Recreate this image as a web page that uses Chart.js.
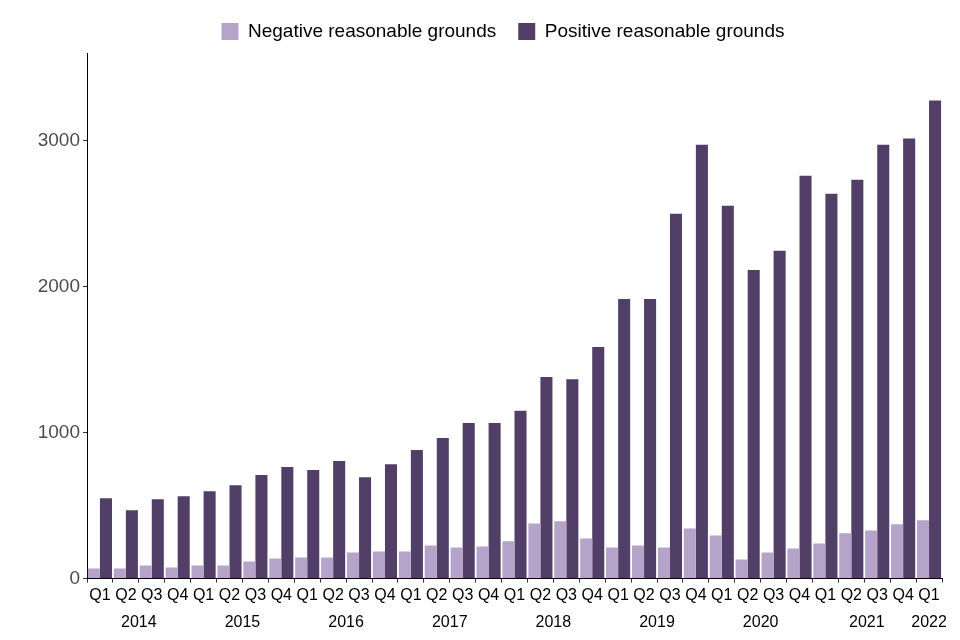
<!DOCTYPE html>
<html>
<head>
<meta charset="utf-8">
<script src="https://cdn.jsdelivr.net/npm/chart.js@4"></script>
<style>
html,body{margin:0;padding:0;background:#fff;}
canvas{display:block;}
</style>
</head>
<body>
<canvas id="c" width="960" height="640"></canvas>
<script>
const quarters = ['Q1','Q2','Q3','Q4','Q1','Q2','Q3','Q4','Q1','Q2','Q3','Q4','Q1','Q2','Q3','Q4','Q1','Q2','Q3','Q4','Q1','Q2','Q3','Q4','Q1','Q2','Q3','Q4','Q1','Q2','Q3','Q4','Q1'];
const years = ['2014','2015','2016','2017','2018','2019','2020','2021','2022'];
const yearPositions = [1.5,5.5,9.5,13.5,17.5,21.5,25.5,29.6,32];
const negative = [69,69,90,76,90,90,117,138,145,145,179,186,186,227,213,220,255,378,392,275,213,227,213,344,296,131,179,206,241,310,330,372,399];
const positive = [550,468,544,564,599,640,709,764,743,805,695,784,881,963,1066,1066,1149,1380,1366,1586,1915,1915,2499,2972,2554,2114,2245,2760,2636,2732,2972,3014,3275];
const yTicks = [0,1000,2000,3000];

const FONT = "'Liberation Sans', Arial, sans-serif";

const chart = new Chart(document.getElementById('c'), {
  type: 'bar',
  data: {
    labels: quarters,
    datasets: [
      {label: 'Negative reasonable grounds', data: negative, backgroundColor: '#b5a3c9', xAxisID: 'x', yAxisID: 'y'},
      {label: 'Positive reasonable grounds', data: positive, backgroundColor: '#523f67', xAxisID: 'x', yAxisID: 'y'}
    ]
  },
  options: {
    responsive: false,
    animation: false,
    devicePixelRatio: 1,
    layout: {padding: {left: 0, right: 18, top: 0, bottom: 11}},
    datasets: {bar: {categoryPercentage: 0.93, barPercentage: 1.0}},
    plugins: {
      legend: {
        position: 'top',
        align: 'center',
        labels: {
          boxWidth: 17, boxHeight: 17, padding: 22,
          color: '#000', font: {family: FONT, size: 19}
        }
      },
      tooltip: {enabled: false}
    },
    scales: {
      x: {
        type: 'category',
        position: 'bottom',
        offset: true,
        grid: {display: true, drawOnChartArea: false, drawTicks: true, tickLength: 4, color: '#333'},
        border: {display: true, color: '#000', width: 1},
        ticks: {color: '#000', font: {family: FONT, size: 16}, padding: 3, maxRotation: 0, autoSkip: false}
      },
      x2: {
        type: 'linear',
        position: 'bottom',
        offset: false,
        bounds: 'data',
        min: -0.5, max: 32.5,
        grid: {display: false, offset: false},
        border: {display: false},
        afterBuildTicks: (axis) => { axis.ticks = yearPositions.map(v => ({value: v})); },
        afterDataLimits: (axis) => { axis.min = -0.5; axis.max = 32.5; },
        ticks: {
          color: '#000', font: {family: FONT, size: 16}, padding: -3, maxRotation: 0, autoSkip: false,
          callback: (v, i) => years[i]
        }
      },
      y: {
        type: 'linear',
        min: 0, max: 3600,
        afterFit: (axis) => { axis.width = 87; },
        afterBuildTicks: (axis) => { axis.ticks = yTicks.map(v => ({value: v})); },
        grid: {display: true, drawOnChartArea: false, drawTicks: true, tickLength: 4, color: '#333'},
        border: {display: true, color: '#000', width: 1},
        ticks: {color: '#4d4d4d', font: {family: FONT, size: 19}, padding: 3, callback: (v) => String(v)}
      }
    }
  }
});
const origFit = chart.legend.fit;
chart.legend.fit = function() { origFit.call(this); this.height += 2; };
const origDraw = chart.legend.draw;
chart.legend.draw = function() {
  const ctx = this.ctx;
  ctx.save();
  ctx.translate(32, 0);
  origDraw.call(this);
  ctx.restore();
};
chart.update();
</script>
</body>
</html>
